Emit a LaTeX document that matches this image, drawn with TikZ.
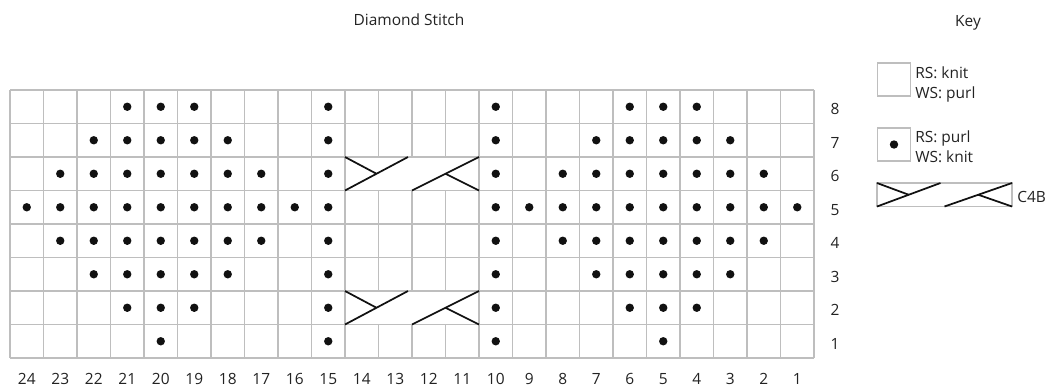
\documentclass[tikz,border=0pt]{standalone}
\usepackage{fontspec}
\setmainfont{Open Sans}
\usepackage{xcolor}
\usetikzlibrary{positioning}
\definecolor{gridgray}{HTML}{BEBEBE}
\definecolor{inkblack}{HTML}{111111}
\definecolor{textgray}{HTML}{222222}

% cable symbol: left, top, width, height
\newcommand{\cablemark}[4]{%
  \draw[cell, fill=white] (#1,#2) rectangle ++(#3,#4);
  \draw[cross] ({#1},{#2+#4}) -- ({#1+0.47*#3},{#2});
  \draw[cross] ({#1},{#2}) -- ({#1+0.235*#3},{#2+0.5*#4});
  \draw[cross] ({#1+0.5*#3},{#2+#4}) -- ({#1+#3},{#2});
  \draw[cross] ({#1+0.75*#3},{#2+0.5*#4}) -- ({#1+#3},{#2+#4});
}

\begin{document}
\begin{tikzpicture}[
  x=0.75pt, y=-0.75pt,
  font=\fontsize{11.6}{15}\selectfont,
  cell/.style={draw=gridgray, line width=1.1pt},
  cross/.style={draw=inkblack, line width=1.3pt},
  purl/.style={fill=inkblack},
  lbl/.style={text=textgray, inner sep=0pt, anchor=base},
  keybox/.style={cell, minimum size=25pt, inner sep=0pt},
]
\useasboundingbox (0,0) rectangle (1049,387);

% grid lines
\foreach \i in {0,...,24}
  \draw[cell] ({10+\i*33.5},90) -- ++(0,268);
\foreach \j in {0,...,8}
  \draw[cell] (10,{90+\j*33.5}) -- ++(804,0);

% purl dots, row / stitch numbers
\foreach \r/\cols in {
    8/{21,20,19,15,10,6,5,4},
    7/{22,21,20,19,18,15,10,7,6,5,4,3},
    6/{23,22,21,20,19,18,17,15,10,8,7,6,5,4,3,2},
    5/{24,23,22,21,20,19,18,17,16,15,10,9,8,7,6,5,4,3,2,1},
    4/{23,22,21,20,19,18,17,15,10,8,7,6,5,4,3,2},
    3/{22,21,20,19,18,15,10,7,6,5,4,3},
    2/{21,20,19,15,10,6,5,4},
    1/{20,15,10,5}}
  \foreach \c in \cols
    \fill[purl] ({10+(24.5-\c)*33.5},{90+(8.5-\r)*33.5}) circle (4.2);

% cables over stitches 14-11
\cablemark{345}{157}{134}{33.5}
\cablemark{345}{291}{134}{33.5}

% numbers
\foreach \c in {1,...,24}
  \node[lbl] (col\c) at ({10+(24.5-\c)*33.5},384) {\c};
\foreach \r in {1,...,8}
  \node[lbl] (row\r) at (835,{90+(8.5-\r)*33.5+8}) {\r};

\node[lbl] (title) at (409,25) {Diamond Stitch};
\node[lbl] (keytitle) at (968,26) {Key};

% key
\node[keybox] (kknit) at (894,79.5) {};
\node[lbl, anchor=base west] (tknitrs) at (915,78) {RS: knit};
\node[lbl, anchor=base west] (tknitws) at (915,98) {WS: purl};
\node[keybox] (kpurl) at (894,144.5) {};
\fill[purl] (kpurl.center) circle (4.2);
\node[lbl, anchor=base west] (tpurlrs) at (915,142.5) {RS: purl};
\node[lbl, anchor=base west] (tpurlws) at (915,162.5) {WS: knit};
\cablemark{877}{183}{135}{23.5}
\node[lbl, anchor=base west] (tcable) at (1017,202.5) {C4B};
\end{tikzpicture}
\end{document}
